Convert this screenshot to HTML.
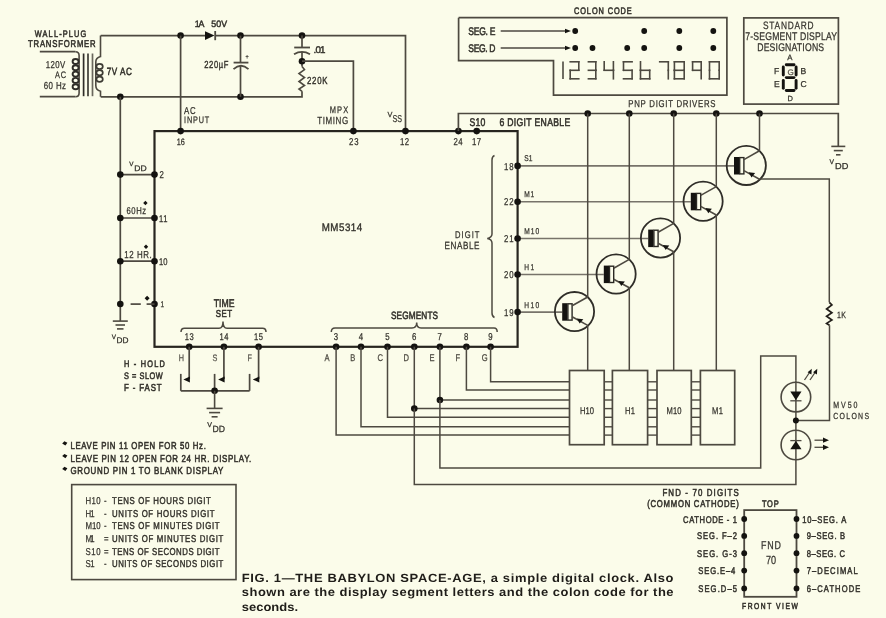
<!DOCTYPE html>
<html><head><meta charset="utf-8"><style>
html,body{margin:0;padding:0;background:#fbfcea;}
svg{display:block;will-change:transform;}
text{font-family:"Liberation Sans",sans-serif;text-rendering:geometricPrecision;}
</style></head><body>
<svg width="886" height="618" viewBox="0 0 886 618">
<rect width="886" height="618" fill="#fbfcea"/>
<text transform="translate(34.7 36.6) scale(0.78 1)" font-size="9.44" font-weight="normal" fill="#33312b" stroke="#33312b" stroke-width="0.55" textLength="66.2" lengthAdjust="spacing">WALL-PLUG</text>
<text transform="translate(28.0 46.7) scale(0.78 1)" font-size="9.86" font-weight="normal" fill="#33312b" stroke="#33312b" stroke-width="0.55" textLength="86.7" lengthAdjust="spacing">TRANSFORMER</text>
<polyline points="39.8,51.7 75.5,51.7" fill="none" stroke="#4d4940" stroke-width="1.7" stroke-linejoin="miter" />
<polyline points="39.8,96.7 75.5,96.7" fill="none" stroke="#4d4940" stroke-width="1.7" stroke-linejoin="miter" />
<path d="M75.5,51.7 Q79.1,51.7 79.1,55.5 L79.1,92.9 Q79.1,96.7 75.5,96.7" fill="none" stroke="#4d4940" stroke-width="1.6" />
<ellipse cx="75.6" cy="61.5" rx="3.0" ry="2.5" fill="none" stroke="#2e2c27" stroke-width="1.9"/>
<ellipse cx="75.6" cy="67.8" rx="3.0" ry="2.5" fill="none" stroke="#2e2c27" stroke-width="1.9"/>
<ellipse cx="75.6" cy="74.1" rx="3.0" ry="2.5" fill="none" stroke="#2e2c27" stroke-width="1.9"/>
<ellipse cx="75.6" cy="80.4" rx="3.0" ry="2.5" fill="none" stroke="#2e2c27" stroke-width="1.9"/>
<ellipse cx="75.6" cy="86.7" rx="3.0" ry="2.5" fill="none" stroke="#2e2c27" stroke-width="1.9"/>
<polyline points="83.6,53.5 83.6,96.2" fill="none" stroke="#2e2c27" stroke-width="1.7" stroke-linejoin="miter" />
<polyline points="88.0,53.5 88.0,96.2" fill="none" stroke="#3d3b34" stroke-width="1.7" stroke-linejoin="miter" />
<polyline points="92.5,53.5 92.5,96.2" fill="none" stroke="#6a675d" stroke-width="1.7" stroke-linejoin="miter" />
<path d="M100.5,35.6 L100.5,56.6 Q95.8,58 95.8,62 L95.8,85.5 Q95.8,90 100.5,91.3 L100.5,96.8" fill="none" stroke="#4d4940" stroke-width="1.6" />
<ellipse cx="99.6" cy="66.4" rx="3.2" ry="2.6" fill="none" stroke="#3d3b34" stroke-width="1.7"/>
<ellipse cx="99.6" cy="72.8" rx="3.2" ry="2.6" fill="none" stroke="#3d3b34" stroke-width="1.7"/>
<ellipse cx="99.6" cy="79.2" rx="3.2" ry="2.6" fill="none" stroke="#3d3b34" stroke-width="1.7"/>
<text transform="translate(45.7 67.8) scale(0.78 1)" font-size="10.00" font-weight="normal" fill="#33312b" stroke="#33312b" stroke-width="0.25" textLength="25.0" lengthAdjust="spacing">120V</text>
<text transform="translate(55.0 77.6) scale(0.78 1)" font-size="9.44" font-weight="normal" fill="#33312b" stroke="#33312b" stroke-width="0.25" textLength="14.1" lengthAdjust="spacing">AC</text>
<text transform="translate(43.7 88.6) scale(0.78 1)" font-size="10.14" font-weight="normal" fill="#33312b" stroke="#33312b" stroke-width="0.25" textLength="28.6" lengthAdjust="spacing">60 Hz</text>
<text transform="translate(106.7 74.5) scale(0.78 1)" font-size="10.42" font-weight="normal" fill="#33312b" stroke="#33312b" stroke-width="0.55" textLength="32.4" lengthAdjust="spacing">7V AC</text>
<polyline points="100.7,35.6 205.0,35.6" fill="none" stroke="#4d4940" stroke-width="1.7" stroke-linejoin="miter" />
<polyline points="215.0,35.6 405.5,35.6 405.5,131.1" fill="none" stroke="#4d4940" stroke-width="1.7" stroke-linejoin="miter" />
<polygon points="205,31.3 205,39.9 214.5,35.6" fill="#141310"/>
<polyline points="215.2,31.0 215.2,40.2" fill="none" stroke="#4d4940" stroke-width="1.8" stroke-linejoin="miter" />
<text transform="translate(194.8 26.5) scale(0.95 1)" font-size="9.31" font-weight="normal" fill="#33312b" stroke="#33312b" stroke-width="0.45" textLength="10.1" lengthAdjust="spacing">1A</text>
<text transform="translate(211.3 26.5) scale(0.95 1)" font-size="9.31" font-weight="normal" fill="#33312b" stroke="#33312b" stroke-width="0.45" textLength="16.7" lengthAdjust="spacing">50V</text>
<polyline points="100.7,96.8 302.0,96.8 302.0,91.3" fill="none" stroke="#4d4940" stroke-width="1.7" stroke-linejoin="miter" />
<circle cx="180.6" cy="35.6" r="3.3" fill="#141310"/>
<circle cx="240.5" cy="35.6" r="3.3" fill="#141310"/>
<circle cx="302.0" cy="35.6" r="3.3" fill="#141310"/>
<circle cx="120.3" cy="96.8" r="3.3" fill="#141310"/>
<circle cx="240.5" cy="96.8" r="3.3" fill="#141310"/>
<polyline points="240.5,35.6 240.5,62.6" fill="none" stroke="#4d4940" stroke-width="1.7" stroke-linejoin="miter" />
<polyline points="240.5,65.8 240.5,96.8" fill="none" stroke="#4d4940" stroke-width="1.7" stroke-linejoin="miter" />
<polyline points="233.6,62.6 248.4,62.6" fill="none" stroke="#4d4940" stroke-width="1.8" stroke-linejoin="miter" />
<path d="M233.5,69.2 Q241,62.3 248.5,69.2" fill="none" stroke="#4d4940" stroke-width="1.8" />
<text transform="translate(245.5 58.5) scale(0.78 1)" font-size="6.94" font-weight="normal" fill="#33312b" stroke="#33312b" stroke-width="0.25" textLength="5.1" lengthAdjust="spacing">+</text>
<text transform="translate(204.2 67.9) scale(0.74 1)" font-size="10.28" font-weight="normal" fill="#33312b" stroke="#33312b" stroke-width="0.4" textLength="32.7" lengthAdjust="spacing">220µF</text>
<polyline points="180.6,35.6 180.6,131.1" fill="none" stroke="#4d4940" stroke-width="1.7" stroke-linejoin="miter" />
<text transform="translate(184.0 113.5) scale(0.78 1)" font-size="10.00" font-weight="normal" fill="#33312b" stroke="#33312b" stroke-width="0.25" textLength="15.0" lengthAdjust="spacing">AC</text>
<text transform="translate(184.0 123.4) scale(0.78 1)" font-size="9.31" font-weight="normal" fill="#33312b" stroke="#33312b" stroke-width="0.25" textLength="32.4" lengthAdjust="spacing">INPUT</text>
<text transform="translate(176.7 144.6) scale(0.78 1)" font-size="9.31" font-weight="normal" fill="#33312b" stroke="#33312b" stroke-width="0.25" textLength="10.5" lengthAdjust="spacing">16</text>
<polyline points="302.0,35.6 302.0,47.5" fill="none" stroke="#4d4940" stroke-width="1.7" stroke-linejoin="miter" />
<polyline points="294.2,47.5 310.0,47.5" fill="none" stroke="#4d4940" stroke-width="1.8" stroke-linejoin="miter" />
<path d="M294,54.3 Q302,49.6 310,54.3" fill="none" stroke="#4d4940" stroke-width="1.8" />
<polyline points="302.0,52.0 302.0,66.4" fill="none" stroke="#4d4940" stroke-width="1.7" stroke-linejoin="miter" />
<circle cx="302.0" cy="61.2" r="3.3" fill="#141310"/>
<text transform="translate(313.5 52.8) scale(1 1)" font-size="9.72" font-weight="normal" fill="#33312b" stroke="#33312b" stroke-width="0.45" textLength="12.0" lengthAdjust="spacing">.01</text>
<polyline points="302.0,66.4 304.5,69.6 299.0,73.6 304.5,77.5 299.0,81.5 304.5,85.5 299.0,89.0 302.0,91.3" fill="none" stroke="#4d4940" stroke-width="1.6" stroke-linejoin="miter" />
<text transform="translate(307.0 84.0) scale(0.76 1)" font-size="10.28" font-weight="normal" fill="#33312b" stroke="#33312b" stroke-width="0.4" textLength="27.0" lengthAdjust="spacing">220K</text>
<polyline points="302.0,61.2 353.4,61.2 353.4,131.1" fill="none" stroke="#4d4940" stroke-width="1.7" stroke-linejoin="miter" />
<text transform="translate(329.7 112.9) scale(0.78 1)" font-size="9.58" font-weight="normal" fill="#33312b" stroke="#33312b" stroke-width="0.25" textLength="23.7" lengthAdjust="spacing">MPX</text>
<text transform="translate(317.2 123.7) scale(0.78 1)" font-size="10.28" font-weight="normal" fill="#33312b" stroke="#33312b" stroke-width="0.25" textLength="39.7" lengthAdjust="spacing">TIMING</text>
<text transform="translate(387.4 116.8) scale(1 1)" font-size="7.36" font-weight="normal" fill="#33312b" stroke="#33312b" stroke-width="0.25" textLength="4.6" lengthAdjust="spacing">V</text>
<text x="392.5" y="122.0" font-size="10.00" font-weight="normal" fill="#33312b" stroke="#33312b" stroke-width="0.25" textLength="9.5" lengthAdjust="spacingAndGlyphs">SS</text>
<text transform="translate(349.0 145.0) scale(0.78 1)" font-size="10.00" font-weight="normal" fill="#33312b" stroke="#33312b" stroke-width="0.25" textLength="12.3" lengthAdjust="spacing">23</text>
<text transform="translate(400.0 145.0) scale(0.78 1)" font-size="10.00" font-weight="normal" fill="#33312b" stroke="#33312b" stroke-width="0.25" textLength="11.5" lengthAdjust="spacing">12</text>
<rect x="154.5" y="131.1" width="363.1" height="215.7" fill="none" stroke="#27251f" stroke-width="2.2"/>
<circle cx="180.6" cy="131.1" r="3.3" fill="#141310"/>
<circle cx="353.4" cy="131.1" r="3.3" fill="#141310"/>
<circle cx="405.5" cy="131.1" r="3.3" fill="#141310"/>
<circle cx="458.4" cy="131.1" r="3.3" fill="#141310"/>
<circle cx="476.7" cy="131.1" r="3.3" fill="#141310"/>
<text transform="translate(453.5 145.0) scale(0.78 1)" font-size="10.00" font-weight="normal" fill="#33312b" stroke="#33312b" stroke-width="0.25" textLength="11.5" lengthAdjust="spacing">24</text>
<text transform="translate(472.0 145.0) scale(0.78 1)" font-size="10.00" font-weight="normal" fill="#33312b" stroke="#33312b" stroke-width="0.25" textLength="11.5" lengthAdjust="spacing">17</text>
<polyline points="458.4,131.1 458.4,113.5 838.3,113.5 838.3,146.4" fill="none" stroke="#4d4940" stroke-width="1.7" stroke-linejoin="miter" />
<text transform="translate(469.5 125.8) scale(0.78 1)" font-size="11.11" font-weight="normal" fill="#33312b" stroke="#33312b" stroke-width="0.55" textLength="20.3" lengthAdjust="spacing">S10</text>
<text transform="translate(499.4 125.8) scale(0.78 1)" font-size="11.11" font-weight="normal" fill="#33312b" stroke="#33312b" stroke-width="0.55" textLength="90.9" lengthAdjust="spacing">6 DIGIT ENABLE</text>
<text transform="translate(628.3 106.9) scale(0.78 1)" font-size="10.00" font-weight="normal" fill="#33312b" stroke="#33312b" stroke-width="0.25" textLength="111.8" lengthAdjust="spacing">PNP DIGIT DRIVERS</text>
<polyline points="831.3,146.4 845.3,146.4" fill="none" stroke="#4d4940" stroke-width="1.6" stroke-linejoin="miter" />
<polyline points="833.8,150.6 842.8,150.6" fill="none" stroke="#4d4940" stroke-width="1.6" stroke-linejoin="miter" />
<polyline points="836.0,154.8 840.5,154.8" fill="none" stroke="#4d4940" stroke-width="1.6" stroke-linejoin="miter" />
<text transform="translate(829.6 164.4) scale(1.0 1)" font-size="6.74" font-weight="normal" fill="#33312b" stroke="#33312b" stroke-width="0.25" textLength="5.5" lengthAdjust="spacing">V</text>
<text x="835.1" y="169.3" font-size="8.62" font-weight="normal" fill="#33312b" stroke="#33312b" stroke-width="0.25" textLength="13.3" lengthAdjust="spacingAndGlyphs">DD</text>
<text transform="translate(321.7 230.6) scale(0.9 1)" font-size="10.83" font-weight="normal" fill="#33312b" stroke="#33312b" stroke-width="0.35" textLength="45.0" lengthAdjust="spacing">MM5314</text>
<text transform="translate(454.9 237.6) scale(0.78 1)" font-size="9.72" font-weight="normal" fill="#33312b" stroke="#33312b" stroke-width="0.25" textLength="31.5" lengthAdjust="spacing">DIGIT</text>
<text transform="translate(444.5 248.5) scale(0.78 1)" font-size="10.42" font-weight="normal" fill="#33312b" stroke="#33312b" stroke-width="0.25" textLength="44.9" lengthAdjust="spacing">ENABLE</text>
<path d="M494.5,155.5 Q492,156.5 492,160 L492,234 Q492,237.5 487.3,238.4 Q492,239.3 492,243 L492,313 Q492,316.5 494.5,317.5" fill="none" stroke="#4d4940" stroke-width="1.5" />
<polyline points="517.6,165.9 734.0,165.9" fill="none" stroke="#77736a" stroke-width="1.6" stroke-linejoin="miter" />
<circle cx="517.6" cy="165.9" r="3.3" fill="#141310"/>
<text transform="translate(504.0 169.5) scale(0.78 1)" font-size="10.00" font-weight="normal" fill="#33312b" stroke="#33312b" stroke-width="0.25" textLength="12.3" lengthAdjust="spacing">18</text>
<text transform="translate(524.3 161.3) scale(0.78 1)" font-size="8.47" font-weight="normal" fill="#33312b" stroke="#33312b" stroke-width="0.25" textLength="10.5" lengthAdjust="spacing">S1</text>
<circle cx="746.3" cy="165.4" r="19.6" fill="none" stroke="#2f2d28" stroke-width="1.8"/>
<rect x="734.0" y="157.0" width="5.3" height="17.5" fill="#141310"/>
<rect x="739.7" y="157.6" width="4.2" height="16.3" fill="none" stroke="#2a2823" stroke-width="1.4"/>
<polyline points="743.9,159.6 759.5,150.8" fill="none" stroke="#4d4940" stroke-width="1.6" stroke-linejoin="miter" />
<polyline points="743.9,170.6 759.5,179.2" fill="none" stroke="#4d4940" stroke-width="1.6" stroke-linejoin="miter" />
<polygon points="748.6,172.3 755.1,173.0 751.5,177.4" fill="#141310"/>
<polyline points="517.6,201.7 690.8,201.7" fill="none" stroke="#77736a" stroke-width="1.6" stroke-linejoin="miter" />
<circle cx="517.6" cy="201.7" r="3.3" fill="#141310"/>
<text transform="translate(504.0 205.3) scale(0.78 1)" font-size="10.00" font-weight="normal" fill="#33312b" stroke="#33312b" stroke-width="0.25" textLength="12.3" lengthAdjust="spacing">22</text>
<text transform="translate(524.3 197.1) scale(0.78 1)" font-size="8.47" font-weight="normal" fill="#33312b" stroke="#33312b" stroke-width="0.25" textLength="12.8" lengthAdjust="spacing">M1</text>
<circle cx="703.1" cy="201.2" r="19.6" fill="none" stroke="#2f2d28" stroke-width="1.8"/>
<rect x="690.8" y="192.8" width="5.3" height="17.5" fill="#141310"/>
<rect x="696.5" y="193.4" width="4.2" height="16.3" fill="none" stroke="#2a2823" stroke-width="1.4"/>
<polyline points="700.7,195.4 716.3,186.6" fill="none" stroke="#4d4940" stroke-width="1.6" stroke-linejoin="miter" />
<polyline points="700.7,206.4 716.3,215.0" fill="none" stroke="#4d4940" stroke-width="1.6" stroke-linejoin="miter" />
<polygon points="705.4,208.1 711.9,208.8 708.3,213.2" fill="#141310"/>
<polyline points="517.6,238.5 648.2,238.5" fill="none" stroke="#77736a" stroke-width="1.6" stroke-linejoin="miter" />
<circle cx="517.6" cy="238.5" r="3.3" fill="#141310"/>
<text transform="translate(504.0 242.1) scale(0.78 1)" font-size="10.00" font-weight="normal" fill="#33312b" stroke="#33312b" stroke-width="0.25" textLength="12.3" lengthAdjust="spacing">21</text>
<text transform="translate(524.3 233.9) scale(0.78 1)" font-size="8.47" font-weight="normal" fill="#33312b" stroke="#33312b" stroke-width="0.25" textLength="19.2" lengthAdjust="spacing">M10</text>
<circle cx="660.5" cy="238.0" r="19.6" fill="none" stroke="#2f2d28" stroke-width="1.8"/>
<rect x="648.2" y="229.6" width="5.3" height="17.5" fill="#141310"/>
<rect x="653.9" y="230.2" width="4.2" height="16.3" fill="none" stroke="#2a2823" stroke-width="1.4"/>
<polyline points="658.1,232.2 673.7,223.4" fill="none" stroke="#4d4940" stroke-width="1.6" stroke-linejoin="miter" />
<polyline points="658.1,243.2 673.7,251.8" fill="none" stroke="#4d4940" stroke-width="1.6" stroke-linejoin="miter" />
<polygon points="662.8,244.9 669.3,245.6 665.7,250.0" fill="#141310"/>
<polyline points="517.6,274.5 603.8,274.5" fill="none" stroke="#77736a" stroke-width="1.6" stroke-linejoin="miter" />
<circle cx="517.6" cy="274.5" r="3.3" fill="#141310"/>
<text transform="translate(504.0 278.1) scale(0.78 1)" font-size="10.00" font-weight="normal" fill="#33312b" stroke="#33312b" stroke-width="0.25" textLength="12.3" lengthAdjust="spacing">20</text>
<text transform="translate(524.3 269.9) scale(0.78 1)" font-size="8.47" font-weight="normal" fill="#33312b" stroke="#33312b" stroke-width="0.25" textLength="12.8" lengthAdjust="spacing">H1</text>
<circle cx="616.1" cy="274.0" r="19.6" fill="none" stroke="#2f2d28" stroke-width="1.8"/>
<rect x="603.8" y="265.6" width="5.3" height="17.5" fill="#141310"/>
<rect x="609.5" y="266.2" width="4.2" height="16.3" fill="none" stroke="#2a2823" stroke-width="1.4"/>
<polyline points="613.7,268.2 629.3,259.4" fill="none" stroke="#4d4940" stroke-width="1.6" stroke-linejoin="miter" />
<polyline points="613.7,279.2 629.3,287.8" fill="none" stroke="#4d4940" stroke-width="1.6" stroke-linejoin="miter" />
<polygon points="618.4,280.9 624.9,281.6 621.3,286.0" fill="#141310"/>
<polyline points="517.6,312.1 562.2,312.1" fill="none" stroke="#77736a" stroke-width="1.6" stroke-linejoin="miter" />
<circle cx="517.6" cy="312.1" r="3.3" fill="#141310"/>
<text transform="translate(504.0 315.7) scale(0.78 1)" font-size="10.00" font-weight="normal" fill="#33312b" stroke="#33312b" stroke-width="0.25" textLength="12.3" lengthAdjust="spacing">19</text>
<text transform="translate(524.3 307.5) scale(0.78 1)" font-size="8.47" font-weight="normal" fill="#33312b" stroke="#33312b" stroke-width="0.25" textLength="19.2" lengthAdjust="spacing">H10</text>
<circle cx="574.5" cy="311.6" r="19.6" fill="none" stroke="#2f2d28" stroke-width="1.8"/>
<rect x="562.2" y="303.2" width="5.3" height="17.5" fill="#141310"/>
<rect x="567.9" y="303.8" width="4.2" height="16.3" fill="none" stroke="#2a2823" stroke-width="1.4"/>
<polyline points="572.1,305.8 587.7,297.0" fill="none" stroke="#4d4940" stroke-width="1.6" stroke-linejoin="miter" />
<polyline points="572.1,316.8 587.7,325.4" fill="none" stroke="#4d4940" stroke-width="1.6" stroke-linejoin="miter" />
<polygon points="576.8,318.5 583.3,319.2 579.7,323.6" fill="#141310"/>
<circle cx="759.5" cy="113.5" r="3.3" fill="#141310"/>
<polyline points="759.5,113.5 759.5,150.8" fill="none" stroke="#4d4940" stroke-width="1.5" stroke-linejoin="miter" />
<circle cx="716.3" cy="113.5" r="3.3" fill="#141310"/>
<polyline points="716.3,113.5 716.3,186.6" fill="none" stroke="#4d4940" stroke-width="1.5" stroke-linejoin="miter" />
<polyline points="716.3,215.0 716.3,370.5" fill="none" stroke="#4d4940" stroke-width="1.5" stroke-linejoin="miter" />
<circle cx="673.7" cy="113.5" r="3.3" fill="#141310"/>
<polyline points="673.7,113.5 673.7,223.4" fill="none" stroke="#4d4940" stroke-width="1.5" stroke-linejoin="miter" />
<polyline points="673.7,251.8 673.7,370.5" fill="none" stroke="#4d4940" stroke-width="1.5" stroke-linejoin="miter" />
<circle cx="629.3" cy="113.5" r="3.3" fill="#141310"/>
<polyline points="629.3,113.5 629.3,259.4" fill="none" stroke="#4d4940" stroke-width="1.5" stroke-linejoin="miter" />
<polyline points="629.3,287.8 629.3,370.5" fill="none" stroke="#4d4940" stroke-width="1.5" stroke-linejoin="miter" />
<circle cx="587.7" cy="113.5" r="3.3" fill="#141310"/>
<polyline points="587.7,113.5 587.7,297.0" fill="none" stroke="#4d4940" stroke-width="1.5" stroke-linejoin="miter" />
<polyline points="587.7,325.4 587.7,370.5" fill="none" stroke="#4d4940" stroke-width="1.5" stroke-linejoin="miter" />
<polyline points="759.5,179.1 829.3,179.1 829.3,302.3" fill="none" stroke="#4d4940" stroke-width="1.5" stroke-linejoin="miter" />
<polyline points="829.3,302.3 831.9,305.0 826.6,309.0 831.9,312.7 826.6,316.3 831.9,320.0 826.6,323.4 829.5,325.2" fill="none" stroke="#221f1a" stroke-width="1.7" stroke-linejoin="miter" />
<polyline points="829.5,325.2 829.5,420.6 795.9,420.6" fill="none" stroke="#4d4940" stroke-width="1.5" stroke-linejoin="miter" />
<text transform="translate(837.1 318.3) scale(0.78 1)" font-size="9.03" font-weight="normal" fill="#33312b" stroke="#33312b" stroke-width="0.25" textLength="11.4" lengthAdjust="spacing">1K</text>
<circle cx="336.1" cy="346.8" r="3.3" fill="#141310"/>
<text transform="translate(333.8 340.4) scale(0.78 1)" font-size="10.00" font-weight="normal" fill="#33312b" stroke="#33312b" stroke-width="0.25" textLength="5.9" lengthAdjust="spacing">3</text>
<text transform="translate(324.6 360.6) scale(0.78 1)" font-size="9.72" font-weight="normal" fill="#4a473f" stroke="#4a473f" stroke-width="0.25" textLength="6.9" lengthAdjust="spacing">A</text>
<polyline points="336.1,346.8 336.1,435.1 569.5,435.1" fill="none" stroke="#4d4940" stroke-width="1.5" stroke-linejoin="miter" />
<circle cx="361.0" cy="346.8" r="3.3" fill="#141310"/>
<text transform="translate(358.7 340.4) scale(0.78 1)" font-size="10.00" font-weight="normal" fill="#33312b" stroke="#33312b" stroke-width="0.25" textLength="5.9" lengthAdjust="spacing">4</text>
<text transform="translate(350.2 360.6) scale(0.78 1)" font-size="9.72" font-weight="normal" fill="#4a473f" stroke="#4a473f" stroke-width="0.25" textLength="6.9" lengthAdjust="spacing">B</text>
<polyline points="361.0,346.8 361.0,426.8 569.5,426.8" fill="none" stroke="#4d4940" stroke-width="1.5" stroke-linejoin="miter" />
<circle cx="387.5" cy="346.8" r="3.3" fill="#141310"/>
<text transform="translate(385.2 340.4) scale(0.78 1)" font-size="10.00" font-weight="normal" fill="#33312b" stroke="#33312b" stroke-width="0.25" textLength="5.9" lengthAdjust="spacing">5</text>
<text transform="translate(377.5 360.6) scale(0.78 1)" font-size="9.72" font-weight="normal" fill="#4a473f" stroke="#4a473f" stroke-width="0.25" textLength="6.9" lengthAdjust="spacing">C</text>
<polyline points="387.5,346.8 387.5,417.3 569.5,417.3" fill="none" stroke="#4d4940" stroke-width="1.5" stroke-linejoin="miter" />
<circle cx="414.3" cy="346.8" r="3.3" fill="#141310"/>
<text transform="translate(412.0 340.4) scale(0.78 1)" font-size="10.00" font-weight="normal" fill="#33312b" stroke="#33312b" stroke-width="0.25" textLength="5.9" lengthAdjust="spacing">6</text>
<text transform="translate(403.6 360.6) scale(0.78 1)" font-size="9.72" font-weight="normal" fill="#4a473f" stroke="#4a473f" stroke-width="0.25" textLength="6.9" lengthAdjust="spacing">D</text>
<polyline points="414.3,346.8 414.3,408.6 569.5,408.6" fill="none" stroke="#4d4940" stroke-width="1.5" stroke-linejoin="miter" />
<circle cx="439.9" cy="346.8" r="3.3" fill="#141310"/>
<text transform="translate(437.6 340.4) scale(0.78 1)" font-size="10.00" font-weight="normal" fill="#33312b" stroke="#33312b" stroke-width="0.25" textLength="5.9" lengthAdjust="spacing">7</text>
<text transform="translate(429.6 360.6) scale(0.78 1)" font-size="9.72" font-weight="normal" fill="#4a473f" stroke="#4a473f" stroke-width="0.25" textLength="6.9" lengthAdjust="spacing">E</text>
<polyline points="439.9,346.8 439.9,400.0 569.5,400.0" fill="none" stroke="#4d4940" stroke-width="1.5" stroke-linejoin="miter" />
<circle cx="466.4" cy="346.8" r="3.3" fill="#141310"/>
<text transform="translate(464.1 340.4) scale(0.78 1)" font-size="10.00" font-weight="normal" fill="#33312b" stroke="#33312b" stroke-width="0.25" textLength="5.9" lengthAdjust="spacing">8</text>
<text transform="translate(455.6 360.6) scale(0.78 1)" font-size="9.72" font-weight="normal" fill="#4a473f" stroke="#4a473f" stroke-width="0.25" textLength="6.9" lengthAdjust="spacing">F</text>
<polyline points="466.4,346.8 466.4,390.0 569.5,390.0" fill="none" stroke="#4d4940" stroke-width="1.5" stroke-linejoin="miter" />
<circle cx="490.6" cy="346.8" r="3.3" fill="#141310"/>
<text transform="translate(488.3 340.4) scale(0.78 1)" font-size="10.00" font-weight="normal" fill="#33312b" stroke="#33312b" stroke-width="0.25" textLength="5.9" lengthAdjust="spacing">9</text>
<text transform="translate(481.7 360.6) scale(0.78 1)" font-size="9.72" font-weight="normal" fill="#4a473f" stroke="#4a473f" stroke-width="0.25" textLength="6.9" lengthAdjust="spacing">G</text>
<polyline points="490.6,346.8 490.6,381.8 569.5,381.8" fill="none" stroke="#4d4940" stroke-width="1.5" stroke-linejoin="miter" />
<circle cx="414.3" cy="408.6" r="3.3" fill="#141310"/>
<circle cx="439.9" cy="400.0" r="3.3" fill="#141310"/>
<text transform="translate(391.0 319.0) scale(0.78 1)" font-size="10.56" font-weight="normal" fill="#33312b" stroke="#33312b" stroke-width="0.55" textLength="60.3" lengthAdjust="spacing">SEGMENTS</text>
<path d="M331.3,332 Q331.3,328 335,328 L412,328 Q416.7,328 416.7,322.5 Q416.7,328 421,328 L494,328 Q497.2,328 497.2,332" fill="none" stroke="#4d4940" stroke-width="1.5" />
<polyline points="439.9,400.0 439.9,468.0 760.7,468.0 760.7,355.9 795.9,355.9 795.9,380.2" fill="none" stroke="#4d4940" stroke-width="1.5" stroke-linejoin="miter" />
<polyline points="414.3,408.6 414.3,484.5 795.9,484.5 795.9,460.0" fill="none" stroke="#4d4940" stroke-width="1.5" stroke-linejoin="miter" />
<rect x="569.5" y="370.5" width="34.7" height="74.2" fill="none" stroke="#4d4940" stroke-width="1.7"/>
<text transform="translate(579.9 413.5) scale(0.78 1)" font-size="9.72" font-weight="normal" fill="#33312b" stroke="#33312b" stroke-width="0.25" textLength="17.9" lengthAdjust="spacing">H10</text>
<rect x="612.4" y="370.5" width="35.2" height="74.2" fill="none" stroke="#4d4940" stroke-width="1.7"/>
<text transform="translate(625.0 413.5) scale(0.78 1)" font-size="9.72" font-weight="normal" fill="#33312b" stroke="#33312b" stroke-width="0.25" textLength="12.8" lengthAdjust="spacing">H1</text>
<rect x="657" y="370.5" width="34.3" height="74.2" fill="none" stroke="#4d4940" stroke-width="1.7"/>
<text transform="translate(666.6 413.5) scale(0.78 1)" font-size="9.72" font-weight="normal" fill="#33312b" stroke="#33312b" stroke-width="0.25" textLength="19.2" lengthAdjust="spacing">M10</text>
<rect x="700.4" y="370.5" width="34.3" height="74.2" fill="none" stroke="#4d4940" stroke-width="1.7"/>
<text transform="translate(712.0 413.5) scale(0.78 1)" font-size="9.72" font-weight="normal" fill="#33312b" stroke="#33312b" stroke-width="0.25" textLength="14.1" lengthAdjust="spacing">M1</text>
<polyline points="604.2,435.1 612.4,435.1" fill="none" stroke="#4d4940" stroke-width="1.4" stroke-linejoin="miter" />
<polyline points="604.2,426.8 612.4,426.8" fill="none" stroke="#4d4940" stroke-width="1.4" stroke-linejoin="miter" />
<polyline points="604.2,417.3 612.4,417.3" fill="none" stroke="#4d4940" stroke-width="1.4" stroke-linejoin="miter" />
<polyline points="604.2,408.6 612.4,408.6" fill="none" stroke="#4d4940" stroke-width="1.4" stroke-linejoin="miter" />
<polyline points="604.2,400.0 612.4,400.0" fill="none" stroke="#4d4940" stroke-width="1.4" stroke-linejoin="miter" />
<polyline points="604.2,390.0 612.4,390.0" fill="none" stroke="#4d4940" stroke-width="1.4" stroke-linejoin="miter" />
<polyline points="604.2,381.8 612.4,381.8" fill="none" stroke="#4d4940" stroke-width="1.4" stroke-linejoin="miter" />
<polyline points="608.3,377.0 608.3,440.0" fill="none" stroke="#4d4940" stroke-width="0" stroke-linejoin="miter" />
<polyline points="647.6,435.1 657.0,435.1" fill="none" stroke="#4d4940" stroke-width="1.4" stroke-linejoin="miter" />
<polyline points="647.6,426.8 657.0,426.8" fill="none" stroke="#4d4940" stroke-width="1.4" stroke-linejoin="miter" />
<polyline points="647.6,417.3 657.0,417.3" fill="none" stroke="#4d4940" stroke-width="1.4" stroke-linejoin="miter" />
<polyline points="647.6,408.6 657.0,408.6" fill="none" stroke="#4d4940" stroke-width="1.4" stroke-linejoin="miter" />
<polyline points="647.6,400.0 657.0,400.0" fill="none" stroke="#4d4940" stroke-width="1.4" stroke-linejoin="miter" />
<polyline points="647.6,390.0 657.0,390.0" fill="none" stroke="#4d4940" stroke-width="1.4" stroke-linejoin="miter" />
<polyline points="647.6,381.8 657.0,381.8" fill="none" stroke="#4d4940" stroke-width="1.4" stroke-linejoin="miter" />
<polyline points="651.7,377.0 651.7,440.0" fill="none" stroke="#4d4940" stroke-width="0" stroke-linejoin="miter" />
<polyline points="691.3,435.1 700.4,435.1" fill="none" stroke="#4d4940" stroke-width="1.4" stroke-linejoin="miter" />
<polyline points="691.3,426.8 700.4,426.8" fill="none" stroke="#4d4940" stroke-width="1.4" stroke-linejoin="miter" />
<polyline points="691.3,417.3 700.4,417.3" fill="none" stroke="#4d4940" stroke-width="1.4" stroke-linejoin="miter" />
<polyline points="691.3,408.6 700.4,408.6" fill="none" stroke="#4d4940" stroke-width="1.4" stroke-linejoin="miter" />
<polyline points="691.3,400.0 700.4,400.0" fill="none" stroke="#4d4940" stroke-width="1.4" stroke-linejoin="miter" />
<polyline points="691.3,390.0 700.4,390.0" fill="none" stroke="#4d4940" stroke-width="1.4" stroke-linejoin="miter" />
<polyline points="691.3,381.8 700.4,381.8" fill="none" stroke="#4d4940" stroke-width="1.4" stroke-linejoin="miter" />
<polyline points="695.4,377.0 695.4,440.0" fill="none" stroke="#4d4940" stroke-width="0" stroke-linejoin="miter" />
<circle cx="795.9" cy="397.1" r="14.8" fill="none" stroke="#4d4940" stroke-width="1.6"/>
<circle cx="795.9" cy="445" r="14.8" fill="none" stroke="#4d4940" stroke-width="1.6"/>
<polyline points="795.9,380.2 795.9,430.2" fill="none" stroke="#4d4940" stroke-width="1.5" stroke-linejoin="miter" />
<polyline points="795.9,430.2 795.9,460.0" fill="none" stroke="#4d4940" stroke-width="1.5" stroke-linejoin="miter" />
<circle cx="795.9" cy="420.6" r="3" fill="#141310"/>
<polygon points="790.3,391.6 801.5,391.6 795.9,400.3" fill="#141310"/>
<polyline points="790.3,400.8 801.5,400.8" fill="none" stroke="#4d4940" stroke-width="1.3" stroke-linejoin="miter" />
<polygon points="790.3,449.3 801.5,449.3 795.9,440.8" fill="#141310"/>
<polyline points="790.3,440.6 801.5,440.6" fill="none" stroke="#4d4940" stroke-width="1.3" stroke-linejoin="miter" />
<polyline points="804.5,380.0 810.2,371.5" fill="none" stroke="#4d4940" stroke-width="1.3" stroke-linejoin="miter" />
<polygon points="811.8,368.7 807.6,372.2 811.4,374.4" fill="#141310"/>
<polyline points="810.0,380.0 815.7,371.5" fill="none" stroke="#4d4940" stroke-width="1.3" stroke-linejoin="miter" />
<polygon points="817.3,368.7 813.1,372.2 816.9,374.4" fill="#141310"/>
<polyline points="814.5,440.2 824.0,440.2" fill="none" stroke="#4d4940" stroke-width="1.3" stroke-linejoin="miter" />
<polygon points="829,440.2 823,437.59999999999997 823,442.8" fill="#141310"/>
<polyline points="814.5,447.3 824.0,447.3" fill="none" stroke="#4d4940" stroke-width="1.3" stroke-linejoin="miter" />
<polygon points="829,447.3 823,444.7 823,449.90000000000003" fill="#141310"/>
<text transform="translate(833.3 407.5) scale(0.78 1)" font-size="9.03" font-weight="normal" fill="#33312b" stroke="#33312b" stroke-width="0.25" textLength="31.0" lengthAdjust="spacing">MV50</text>
<text transform="translate(833.3 418.9) scale(0.78 1)" font-size="8.89" font-weight="normal" fill="#33312b" stroke="#33312b" stroke-width="0.25" textLength="45.8" lengthAdjust="spacing">COLONS</text>
<polyline points="120.3,96.8 120.3,321.0" fill="none" stroke="#4d4940" stroke-width="1.7" stroke-linejoin="miter" />
<polyline points="120.3,174.6 154.5,174.6" fill="none" stroke="#4d4940" stroke-width="1.7" stroke-linejoin="miter" />
<circle cx="120.3" cy="174.6" r="3.3" fill="#141310"/>
<circle cx="154.5" cy="174.6" r="3.3" fill="#141310"/>
<polyline points="120.3,218.0 154.5,218.0" fill="none" stroke="#4d4940" stroke-width="1.7" stroke-linejoin="miter" />
<circle cx="120.3" cy="218.0" r="3.3" fill="#141310"/>
<circle cx="154.5" cy="218.0" r="3.3" fill="#141310"/>
<polyline points="120.3,261.2 154.5,261.2" fill="none" stroke="#4d4940" stroke-width="1.7" stroke-linejoin="miter" />
<circle cx="120.3" cy="261.2" r="3.3" fill="#141310"/>
<circle cx="154.5" cy="261.2" r="3.3" fill="#141310"/>
<text transform="translate(159.6 178.2) scale(0.78 1)" font-size="10.00" font-weight="normal" fill="#33312b" stroke="#33312b" stroke-width="0.25" textLength="5.4" lengthAdjust="spacing">2</text>
<text transform="translate(159.0 221.5) scale(0.78 1)" font-size="9.72" font-weight="normal" fill="#33312b" stroke="#33312b" stroke-width="0.25" textLength="10.9" lengthAdjust="spacing">11</text>
<text transform="translate(159.0 264.7) scale(0.78 1)" font-size="9.72" font-weight="normal" fill="#33312b" stroke="#33312b" stroke-width="0.25" textLength="10.9" lengthAdjust="spacing">10</text>
<text transform="translate(129.2 166.1) scale(1.0 1)" font-size="6.32" font-weight="normal" fill="#33312b" stroke="#33312b" stroke-width="0.25" textLength="5.1" lengthAdjust="spacing">V</text>
<text x="134.3" y="170.7" font-size="8.09" font-weight="normal" fill="#33312b" stroke="#33312b" stroke-width="0.25" textLength="12.4" lengthAdjust="spacingAndGlyphs">DD</text>
<text transform="translate(126.6 214.0) scale(0.78 1)" font-size="9.86" font-weight="normal" fill="#33312b" stroke="#33312b" stroke-width="0.25" textLength="24.9" lengthAdjust="spacing">60Hz</text>
<polygon points="145.4,200.8 147.6,203 145.4,205.2 143.2,203" fill="#141310"/>
<text transform="translate(124.3 258.0) scale(0.78 1)" font-size="10.14" font-weight="normal" fill="#33312b" stroke="#33312b" stroke-width="0.25" textLength="35.1" lengthAdjust="spacing">12 HR.</text>
<polygon points="146,244.6 148.2,246.8 146,249 143.8,246.8" fill="#141310"/>
<circle cx="120.3" cy="304.0" r="3.3" fill="#141310"/>
<circle cx="154.5" cy="304.0" r="3.3" fill="#141310"/>
<polyline points="130.6,304.1 140.8,304.1" fill="none" stroke="#4d4940" stroke-width="1.7" stroke-linejoin="miter" />
<polyline points="146.6,304.1 154.5,304.1" fill="none" stroke="#4d4940" stroke-width="1.7" stroke-linejoin="miter" />
<polygon points="147.1,295.8 149.6,298.3 147.1,300.8 144.6,298.3" fill="#141310"/>
<text transform="translate(160.5 306.5) scale(0.78 1)" font-size="8.33" font-weight="normal" fill="#33312b" stroke="#33312b" stroke-width="0.25" textLength="3.2" lengthAdjust="spacing">1</text>
<polyline points="112.8,321.1 127.8,321.1" fill="none" stroke="#4d4940" stroke-width="1.6" stroke-linejoin="miter" />
<polyline points="115.5,325.0 125.0,325.0" fill="none" stroke="#4d4940" stroke-width="1.6" stroke-linejoin="miter" />
<polyline points="117.0,328.9 123.5,328.9" fill="none" stroke="#4d4940" stroke-width="1.6" stroke-linejoin="miter" />
<text transform="translate(111.7 338.8) scale(1.0 1)" font-size="6.39" font-weight="normal" fill="#33312b" stroke="#33312b" stroke-width="0.25" textLength="4.9" lengthAdjust="spacing">V</text>
<text x="116.6" y="343.4" font-size="8.18" font-weight="normal" fill="#33312b" stroke="#33312b" stroke-width="0.25" textLength="12.0" lengthAdjust="spacingAndGlyphs">DD</text>
<circle cx="189.2" cy="346.8" r="3.3" fill="#141310"/>
<text transform="translate(184.7 339.5) scale(0.78 1)" font-size="9.72" font-weight="normal" fill="#33312b" stroke="#33312b" stroke-width="0.25" textLength="11.5" lengthAdjust="spacing">13</text>
<text transform="translate(178.7 360.5) scale(0.78 1)" font-size="9.31" font-weight="normal" fill="#55524a" stroke="#55524a" stroke-width="0.25" textLength="6.7" lengthAdjust="spacing">H</text>
<polyline points="189.2,346.8 189.2,379.0" fill="none" stroke="#4d4940" stroke-width="1.7" stroke-linejoin="miter" />
<polygon points="183.4,379.5 189.9,376.5 189.9,382.4" fill="#141310"/>
<polyline points="180.8,373.9 180.8,390.8" fill="none" stroke="#4d4940" stroke-width="1.7" stroke-linejoin="miter" />
<circle cx="223.9" cy="346.8" r="3.3" fill="#141310"/>
<text transform="translate(219.4 339.5) scale(0.78 1)" font-size="9.72" font-weight="normal" fill="#33312b" stroke="#33312b" stroke-width="0.25" textLength="11.5" lengthAdjust="spacing">14</text>
<text transform="translate(212.5 360.5) scale(0.78 1)" font-size="9.31" font-weight="normal" fill="#55524a" stroke="#55524a" stroke-width="0.25" textLength="6.7" lengthAdjust="spacing">S</text>
<polyline points="223.9,346.8 223.9,379.0" fill="none" stroke="#4d4940" stroke-width="1.7" stroke-linejoin="miter" />
<polygon points="218.1,379.5 224.6,376.5 224.6,382.4" fill="#141310"/>
<polyline points="214.6,373.9 214.6,390.8" fill="none" stroke="#4d4940" stroke-width="1.7" stroke-linejoin="miter" />
<circle cx="258.6" cy="346.8" r="3.3" fill="#141310"/>
<text transform="translate(254.1 339.5) scale(0.78 1)" font-size="9.72" font-weight="normal" fill="#33312b" stroke="#33312b" stroke-width="0.25" textLength="11.5" lengthAdjust="spacing">15</text>
<text transform="translate(247.5 360.5) scale(0.78 1)" font-size="9.31" font-weight="normal" fill="#55524a" stroke="#55524a" stroke-width="0.25" textLength="6.7" lengthAdjust="spacing">F</text>
<polyline points="258.6,346.8 258.6,379.0" fill="none" stroke="#4d4940" stroke-width="1.7" stroke-linejoin="miter" />
<polygon points="252.8,379.5 259.3,376.5 259.3,382.4" fill="#141310"/>
<polyline points="249.6,373.9 249.6,390.8" fill="none" stroke="#4d4940" stroke-width="1.7" stroke-linejoin="miter" />
<polyline points="180.8,390.8 249.6,390.8" fill="none" stroke="#4d4940" stroke-width="1.7" stroke-linejoin="miter" />
<circle cx="214.6" cy="390.8" r="3.3" fill="#141310"/>
<polyline points="214.6,390.8 214.6,408.4" fill="none" stroke="#4d4940" stroke-width="1.6" stroke-linejoin="miter" />
<polyline points="206.6,408.4 222.6,408.4" fill="none" stroke="#4d4940" stroke-width="1.6" stroke-linejoin="miter" />
<polyline points="209.1,412.6 220.1,412.6" fill="none" stroke="#4d4940" stroke-width="1.6" stroke-linejoin="miter" />
<polyline points="211.6,416.8 217.6,416.8" fill="none" stroke="#4d4940" stroke-width="1.6" stroke-linejoin="miter" />
<text transform="translate(207.3 426.6) scale(1.0 1)" font-size="7.08" font-weight="normal" fill="#33312b" stroke="#33312b" stroke-width="0.25" textLength="5.1" lengthAdjust="spacing">V</text>
<text x="212.4" y="431.7" font-size="9.07" font-weight="normal" fill="#33312b" stroke="#33312b" stroke-width="0.25" textLength="12.5" lengthAdjust="spacingAndGlyphs">DD</text>
<text transform="translate(213.8 307.0) scale(0.78 1)" font-size="11.11" font-weight="normal" fill="#33312b" stroke="#33312b" stroke-width="0.55" textLength="26.5" lengthAdjust="spacing">TIME</text>
<text transform="translate(215.8 317.3) scale(0.78 1)" font-size="10.14" font-weight="normal" fill="#33312b" stroke="#33312b" stroke-width="0.55" textLength="20.8" lengthAdjust="spacing">SET</text>
<path d="M181,332 Q181,328.3 184.5,328.3 L219,328.3 Q223,328.3 223,321.5 Q223,328.3 227,328.3 L262.5,328.3 Q266,328.3 266,332" fill="none" stroke="#4d4940" stroke-width="1.5" />
<text transform="translate(124.0 366.6) scale(0.78 1)" font-size="9.44" font-weight="normal" fill="#33312b" stroke="#33312b" stroke-width="0.55" textLength="52.3" lengthAdjust="spacing">H - HOLD</text>
<text transform="translate(124.0 378.8) scale(0.78 1)" font-size="9.44" font-weight="normal" fill="#33312b" stroke="#33312b" stroke-width="0.55" textLength="49.7" lengthAdjust="spacing">S = SLOW</text>
<text transform="translate(124.0 391.4) scale(0.78 1)" font-size="10.14" font-weight="normal" fill="#33312b" stroke="#33312b" stroke-width="0.55" textLength="48.2" lengthAdjust="spacing">F - FAST</text>
<polygon points="62.2,443.4 64.4,441.2 67.4,442.8 65.4,445.6" fill="#141310"/>
<polygon points="62.2,456.1 64.4,453.9 67.4,455.5 65.4,458.3" fill="#141310"/>
<polygon points="62.2,468.9 64.4,466.7 67.4,468.3 65.4,471.1" fill="#141310"/>
<text transform="translate(70.5 449.2) scale(0.78 1)" font-size="10.00" font-weight="normal" fill="#33312b" stroke="#33312b" stroke-width="0.55" textLength="173.5" lengthAdjust="spacing">LEAVE PIN 11 OPEN FOR 50 Hz.</text>
<text transform="translate(70.5 461.9) scale(0.78 1)" font-size="10.14" font-weight="normal" fill="#33312b" stroke="#33312b" stroke-width="0.55" textLength="231.8" lengthAdjust="spacing">LEAVE PIN 12 OPEN FOR 24 HR. DISPLAY.</text>
<text transform="translate(70.5 474.3) scale(0.78 1)" font-size="10.14" font-weight="normal" fill="#33312b" stroke="#33312b" stroke-width="0.55" textLength="196.0" lengthAdjust="spacing">GROUND PIN 1 TO BLANK DISPLAY</text>
<rect x="71.7" y="484.6" width="164.3" height="95" fill="none" stroke="#4d4940" stroke-width="1.6"/>
<text transform="translate(85.5 504.3) scale(0.78 1)" font-size="10.00" font-weight="normal" fill="#33312b" stroke="#33312b" stroke-width="0.25" textLength="19.2" lengthAdjust="spacing">H10</text>
<text transform="translate(104.0 504.3) scale(0.78 1)" font-size="10.00" font-weight="normal" fill="#33312b" stroke="#33312b" stroke-width="0.25" textLength="5.8" lengthAdjust="spacing">-</text>
<text transform="translate(112.0 504.3) scale(0.78 1)" font-size="10.00" font-weight="normal" fill="#33312b" stroke="#33312b" stroke-width="0.45" textLength="126.7" lengthAdjust="spacing">TENS OF HOURS DIGIT</text>
<text transform="translate(85.5 516.9) scale(0.78 1)" font-size="10.00" font-weight="normal" fill="#33312b" stroke="#33312b" stroke-width="0.25" textLength="11.5" lengthAdjust="spacing">H1</text>
<text transform="translate(104.0 516.9) scale(0.78 1)" font-size="10.00" font-weight="normal" fill="#33312b" stroke="#33312b" stroke-width="0.25" textLength="5.8" lengthAdjust="spacing">-</text>
<text transform="translate(112.0 516.9) scale(0.78 1)" font-size="10.00" font-weight="normal" fill="#33312b" stroke="#33312b" stroke-width="0.45" textLength="131.5" lengthAdjust="spacing">UNITS OF HOURS DIGIT</text>
<text transform="translate(85.5 529.2) scale(0.78 1)" font-size="10.00" font-weight="normal" fill="#33312b" stroke="#33312b" stroke-width="0.25" textLength="19.2" lengthAdjust="spacing">M10</text>
<text transform="translate(104.0 529.2) scale(0.78 1)" font-size="10.00" font-weight="normal" fill="#33312b" stroke="#33312b" stroke-width="0.25" textLength="5.8" lengthAdjust="spacing">-</text>
<text transform="translate(112.0 529.2) scale(0.78 1)" font-size="10.00" font-weight="normal" fill="#33312b" stroke="#33312b" stroke-width="0.45" textLength="137.9" lengthAdjust="spacing">TENS OF MINUTES DIGIT</text>
<text transform="translate(85.5 542.4) scale(0.78 1)" font-size="10.00" font-weight="normal" fill="#33312b" stroke="#33312b" stroke-width="0.25" textLength="11.5" lengthAdjust="spacing">M1</text>
<text transform="translate(104.0 542.4) scale(0.78 1)" font-size="10.00" font-weight="normal" fill="#33312b" stroke="#33312b" stroke-width="0.25" textLength="5.8" lengthAdjust="spacing">=</text>
<text transform="translate(112.0 542.4) scale(0.78 1)" font-size="10.00" font-weight="normal" fill="#33312b" stroke="#33312b" stroke-width="0.45" textLength="142.8" lengthAdjust="spacing">UNITS OF MINUTES DIGIT</text>
<text transform="translate(85.5 554.8) scale(0.78 1)" font-size="10.00" font-weight="normal" fill="#33312b" stroke="#33312b" stroke-width="0.25" textLength="19.2" lengthAdjust="spacing">S10</text>
<text transform="translate(104.0 554.8) scale(0.78 1)" font-size="10.00" font-weight="normal" fill="#33312b" stroke="#33312b" stroke-width="0.25" textLength="5.8" lengthAdjust="spacing">=</text>
<text transform="translate(112.0 554.8) scale(0.78 1)" font-size="10.00" font-weight="normal" fill="#33312b" stroke="#33312b" stroke-width="0.45" textLength="137.9" lengthAdjust="spacing">TENS OF SECONDS DIGIT</text>
<text transform="translate(85.5 567.4) scale(0.78 1)" font-size="10.00" font-weight="normal" fill="#33312b" stroke="#33312b" stroke-width="0.25" textLength="11.5" lengthAdjust="spacing">S1</text>
<text transform="translate(104.0 567.4) scale(0.78 1)" font-size="10.00" font-weight="normal" fill="#33312b" stroke="#33312b" stroke-width="0.25" textLength="5.8" lengthAdjust="spacing">-</text>
<text transform="translate(112.0 567.4) scale(0.78 1)" font-size="10.00" font-weight="normal" fill="#33312b" stroke="#33312b" stroke-width="0.45" textLength="142.8" lengthAdjust="spacing">UNITS OF SECONDS DIGIT</text>
<g font-family="Liberation Sans" font-weight="bold" font-size="11.9" fill="#1f1d19">
<text transform="translate(241.8 581.6) scale(1.09 1)" textLength="396.1" lengthAdjust="spacing">FIG. 1—THE BABYLON SPACE-AGE, a simple digital clock. Also</text>
<text transform="translate(241.8 596.4) scale(1.09 1)" textLength="396.1" lengthAdjust="spacing">shown are the display segment letters and the colon code for the</text>
<text transform="translate(241.8 611.2) scale(1.09 1)">seconds.</text>
</g>
<text transform="translate(574.0 13.6) scale(0.78 1)" font-size="9.44" font-weight="normal" fill="#33312b" stroke="#33312b" stroke-width="0.55" textLength="74.0" lengthAdjust="spacing">COLON CODE</text>
<polyline points="458.6,17.7 726.9,17.7 726.9,95.1 553.5,95.1 553.5,60.7 458.6,60.7 458.6,17.7" fill="none" stroke="#4d4940" stroke-width="1.7" stroke-linejoin="miter" />
<text transform="translate(468.3 35.1) scale(0.78 1)" font-size="10.97" font-weight="normal" fill="#33312b" stroke="#33312b" stroke-width="0.55" textLength="34.9" lengthAdjust="spacing">SEG. E</text>
<text transform="translate(468.3 52.1) scale(0.78 1)" font-size="10.97" font-weight="normal" fill="#33312b" stroke="#33312b" stroke-width="0.55" textLength="34.9" lengthAdjust="spacing">SEG. D</text>
<polyline points="500.7,31.0 567.0,31.0" fill="none" stroke="#4d4940" stroke-width="1.4" stroke-linejoin="miter" />
<polygon points="571,31 565,28.7 565,33.3" fill="#141310"/>
<polyline points="500.7,48.0 567.0,48.0" fill="none" stroke="#4d4940" stroke-width="1.4" stroke-linejoin="miter" />
<polygon points="571,48 565,45.7 565,50.3" fill="#141310"/>
<circle cx="575.2" cy="31.0" r="2.9" fill="#141310"/>
<circle cx="644.2" cy="31.0" r="2.9" fill="#141310"/>
<circle cx="679.3" cy="31.0" r="2.9" fill="#141310"/>
<circle cx="713.3" cy="31.0" r="2.9" fill="#141310"/>
<circle cx="575.2" cy="48.0" r="2.9" fill="#141310"/>
<circle cx="592.5" cy="48.0" r="2.9" fill="#141310"/>
<circle cx="627.2" cy="48.0" r="2.9" fill="#141310"/>
<circle cx="644.2" cy="48.0" r="2.9" fill="#141310"/>
<circle cx="679.3" cy="48.0" r="2.9" fill="#141310"/>
<circle cx="713.3" cy="48.0" r="2.9" fill="#141310"/>
<polyline points="563.0,61.5 563.0,79.0" fill="none" stroke="#4d4940" stroke-width="1.6" stroke-linejoin="miter" />
<polyline points="570.2,61.8 578.8,61.8" fill="none" stroke="#4d4940" stroke-width="1.6" stroke-linejoin="miter" stroke-linecap="square"/>
<polyline points="578.8,61.8 578.8,70.3" fill="none" stroke="#4d4940" stroke-width="1.6" stroke-linejoin="miter" stroke-linecap="square"/>
<polyline points="570.2,70.3 578.8,70.3" fill="none" stroke="#4d4940" stroke-width="1.6" stroke-linejoin="miter" stroke-linecap="square"/>
<polyline points="570.2,70.3 570.2,78.8" fill="none" stroke="#4d4940" stroke-width="1.6" stroke-linejoin="miter" stroke-linecap="square"/>
<polyline points="570.2,78.8 578.8,78.8" fill="none" stroke="#4d4940" stroke-width="1.6" stroke-linejoin="miter" stroke-linecap="square"/>
<polyline points="588.4,61.8 595.8,61.8" fill="none" stroke="#4d4940" stroke-width="1.6" stroke-linejoin="miter" stroke-linecap="square"/>
<polyline points="595.8,61.8 595.8,70.3" fill="none" stroke="#4d4940" stroke-width="1.6" stroke-linejoin="miter" stroke-linecap="square"/>
<polyline points="588.4,70.3 595.8,70.3" fill="none" stroke="#4d4940" stroke-width="1.6" stroke-linejoin="miter" stroke-linecap="square"/>
<polyline points="595.8,70.3 595.8,78.8" fill="none" stroke="#4d4940" stroke-width="1.6" stroke-linejoin="miter" stroke-linecap="square"/>
<polyline points="588.4,78.8 595.8,78.8" fill="none" stroke="#4d4940" stroke-width="1.6" stroke-linejoin="miter" stroke-linecap="square"/>
<polyline points="604.2,61.8 604.2,70.3" fill="none" stroke="#4d4940" stroke-width="1.6" stroke-linejoin="miter" stroke-linecap="square"/>
<polyline points="604.2,70.3 613.4,70.3" fill="none" stroke="#4d4940" stroke-width="1.6" stroke-linejoin="miter" stroke-linecap="square"/>
<polyline points="613.4,61.8 613.4,70.3" fill="none" stroke="#4d4940" stroke-width="1.6" stroke-linejoin="miter" stroke-linecap="square"/>
<polyline points="613.4,70.3 613.4,78.8" fill="none" stroke="#4d4940" stroke-width="1.6" stroke-linejoin="miter" stroke-linecap="square"/>
<polyline points="623.5,61.8 632.1,61.8" fill="none" stroke="#4d4940" stroke-width="1.6" stroke-linejoin="miter" stroke-linecap="square"/>
<polyline points="623.5,61.8 623.5,70.3" fill="none" stroke="#4d4940" stroke-width="1.6" stroke-linejoin="miter" stroke-linecap="square"/>
<polyline points="623.5,70.3 632.1,70.3" fill="none" stroke="#4d4940" stroke-width="1.6" stroke-linejoin="miter" stroke-linecap="square"/>
<polyline points="632.1,70.3 632.1,78.8" fill="none" stroke="#4d4940" stroke-width="1.6" stroke-linejoin="miter" stroke-linecap="square"/>
<polyline points="623.5,78.8 632.1,78.8" fill="none" stroke="#4d4940" stroke-width="1.6" stroke-linejoin="miter" stroke-linecap="square"/>
<polyline points="640.5,61.8 640.5,70.3" fill="none" stroke="#4d4940" stroke-width="1.6" stroke-linejoin="miter" stroke-linecap="square"/>
<polyline points="640.5,70.3 649.7,70.3" fill="none" stroke="#4d4940" stroke-width="1.6" stroke-linejoin="miter" stroke-linecap="square"/>
<polyline points="649.7,70.3 649.7,78.8" fill="none" stroke="#4d4940" stroke-width="1.6" stroke-linejoin="miter" stroke-linecap="square"/>
<polyline points="640.5,78.8 649.7,78.8" fill="none" stroke="#4d4940" stroke-width="1.6" stroke-linejoin="miter" stroke-linecap="square"/>
<polyline points="640.5,70.3 640.5,78.8" fill="none" stroke="#4d4940" stroke-width="1.6" stroke-linejoin="miter" stroke-linecap="square"/>
<polyline points="659.7,61.8 668.3,61.8" fill="none" stroke="#4d4940" stroke-width="1.6" stroke-linejoin="miter" stroke-linecap="square"/>
<polyline points="668.3,61.8 668.3,70.3" fill="none" stroke="#4d4940" stroke-width="1.6" stroke-linejoin="miter" stroke-linecap="square"/>
<polyline points="668.3,70.3 668.3,78.8" fill="none" stroke="#4d4940" stroke-width="1.6" stroke-linejoin="miter" stroke-linecap="square"/>
<polyline points="674.4,61.8 684.2,61.8" fill="none" stroke="#4d4940" stroke-width="1.6" stroke-linejoin="miter" stroke-linecap="square"/>
<polyline points="684.2,61.8 684.2,70.3" fill="none" stroke="#4d4940" stroke-width="1.6" stroke-linejoin="miter" stroke-linecap="square"/>
<polyline points="684.2,70.3 684.2,78.8" fill="none" stroke="#4d4940" stroke-width="1.6" stroke-linejoin="miter" stroke-linecap="square"/>
<polyline points="674.4,78.8 684.2,78.8" fill="none" stroke="#4d4940" stroke-width="1.6" stroke-linejoin="miter" stroke-linecap="square"/>
<polyline points="674.4,70.3 674.4,78.8" fill="none" stroke="#4d4940" stroke-width="1.6" stroke-linejoin="miter" stroke-linecap="square"/>
<polyline points="674.4,61.8 674.4,70.3" fill="none" stroke="#4d4940" stroke-width="1.6" stroke-linejoin="miter" stroke-linecap="square"/>
<polyline points="674.4,70.3 684.2,70.3" fill="none" stroke="#4d4940" stroke-width="1.6" stroke-linejoin="miter" stroke-linecap="square"/>
<polyline points="692.6,61.8 701.2,61.8" fill="none" stroke="#4d4940" stroke-width="1.6" stroke-linejoin="miter" stroke-linecap="square"/>
<polyline points="701.2,61.8 701.2,70.3" fill="none" stroke="#4d4940" stroke-width="1.6" stroke-linejoin="miter" stroke-linecap="square"/>
<polyline points="701.2,70.3 701.2,78.8" fill="none" stroke="#4d4940" stroke-width="1.6" stroke-linejoin="miter" stroke-linecap="square"/>
<polyline points="692.6,61.8 692.6,70.3" fill="none" stroke="#4d4940" stroke-width="1.6" stroke-linejoin="miter" stroke-linecap="square"/>
<polyline points="692.6,70.3 701.2,70.3" fill="none" stroke="#4d4940" stroke-width="1.6" stroke-linejoin="miter" stroke-linecap="square"/>
<polyline points="709.5,61.8 719.2,61.8" fill="none" stroke="#4d4940" stroke-width="1.6" stroke-linejoin="miter" stroke-linecap="square"/>
<polyline points="719.2,61.8 719.2,70.3" fill="none" stroke="#4d4940" stroke-width="1.6" stroke-linejoin="miter" stroke-linecap="square"/>
<polyline points="719.2,70.3 719.2,78.8" fill="none" stroke="#4d4940" stroke-width="1.6" stroke-linejoin="miter" stroke-linecap="square"/>
<polyline points="709.5,78.8 719.2,78.8" fill="none" stroke="#4d4940" stroke-width="1.6" stroke-linejoin="miter" stroke-linecap="square"/>
<polyline points="709.5,70.3 709.5,78.8" fill="none" stroke="#4d4940" stroke-width="1.6" stroke-linejoin="miter" stroke-linecap="square"/>
<polyline points="709.5,61.8 709.5,70.3" fill="none" stroke="#4d4940" stroke-width="1.6" stroke-linejoin="miter" stroke-linecap="square"/>
<rect x="743.8" y="17.9" width="94.6" height="86.2" fill="none" stroke="#4d4940" stroke-width="1.7"/>
<text transform="translate(763.0 29.0) scale(0.78 1)" font-size="10.69" font-weight="normal" fill="#33312b" stroke="#33312b" stroke-width="0.25" textLength="64.9" lengthAdjust="spacing">STANDARD</text>
<text transform="translate(745.2 40.0) scale(0.78 1)" font-size="11.11" font-weight="normal" fill="#33312b" stroke="#33312b" stroke-width="0.25" textLength="117.9" lengthAdjust="spacing">7-SEGMENT DISPLAY</text>
<text transform="translate(757.2 50.5) scale(0.78 1)" font-size="11.11" font-weight="normal" fill="#33312b" stroke="#33312b" stroke-width="0.25" textLength="85.8" lengthAdjust="spacing">DESIGNATIONS</text>
<polyline points="786.3,64.8 794.0,64.8" fill="none" stroke="#141310" stroke-width="2.9" stroke-linejoin="miter" stroke-linecap="round"/>
<polyline points="783.3,67.0 783.3,75.0" fill="none" stroke="#141310" stroke-width="2.9" stroke-linejoin="miter" stroke-linecap="round"/>
<polyline points="796.1,67.0 796.1,75.0" fill="none" stroke="#141310" stroke-width="2.9" stroke-linejoin="miter" stroke-linecap="round"/>
<polyline points="786.3,77.6 794.0,77.6" fill="none" stroke="#141310" stroke-width="2.9" stroke-linejoin="miter" stroke-linecap="round"/>
<polyline points="783.3,80.4 783.3,88.2" fill="none" stroke="#141310" stroke-width="2.9" stroke-linejoin="miter" stroke-linecap="round"/>
<polyline points="796.1,80.4 796.1,88.2" fill="none" stroke="#141310" stroke-width="2.9" stroke-linejoin="miter" stroke-linecap="round"/>
<polyline points="786.3,90.5 794.0,90.5" fill="none" stroke="#141310" stroke-width="2.9" stroke-linejoin="miter" stroke-linecap="round"/>
<text transform="translate(787.3 59.5) scale(1 1)" font-size="7.78" font-weight="normal" fill="#33312b" stroke="#33312b" stroke-width="0.25" textLength="5.2" lengthAdjust="spacing">A</text>
<text transform="translate(774.0 73.6) scale(1 1)" font-size="8.61" font-weight="normal" fill="#33312b" stroke="#33312b" stroke-width="0.25" textLength="4.2" lengthAdjust="spacing">F</text>
<text transform="translate(787.6 74.9) scale(1 1)" font-size="8.06" font-weight="normal" fill="#55524a" stroke="#55524a" stroke-width="0.25" textLength="4.8" lengthAdjust="spacing">G</text>
<text transform="translate(800.5 73.6) scale(1 1)" font-size="8.61" font-weight="normal" fill="#33312b" stroke="#33312b" stroke-width="0.25" textLength="4.6" lengthAdjust="spacing">B</text>
<text transform="translate(774.0 87.4) scale(1 1)" font-size="8.61" font-weight="normal" fill="#33312b" stroke="#33312b" stroke-width="0.25" textLength="4.2" lengthAdjust="spacing">E</text>
<text transform="translate(800.5 87.4) scale(1 1)" font-size="8.61" font-weight="normal" fill="#33312b" stroke="#33312b" stroke-width="0.25" textLength="4.6" lengthAdjust="spacing">C</text>
<text transform="translate(787.6 100.5) scale(1 1)" font-size="7.50" font-weight="normal" fill="#33312b" stroke="#33312b" stroke-width="0.25" textLength="4.8" lengthAdjust="spacing">D</text>
<text transform="translate(662.4 495.8) scale(0.78 1)" font-size="10.14" font-weight="normal" fill="#33312b" stroke="#33312b" stroke-width="0.55" textLength="97.9" lengthAdjust="spacing">FND - 70 DIGITS</text>
<text transform="translate(647.2 507.2) scale(0.78 1)" font-size="9.86" font-weight="normal" fill="#33312b" stroke="#33312b" stroke-width="0.55" textLength="117.4" lengthAdjust="spacing">(COMMON CATHODE)</text>
<text transform="translate(762.0 506.8) scale(0.78 1)" font-size="9.58" font-weight="normal" fill="#33312b" stroke="#33312b" stroke-width="0.55" textLength="21.3" lengthAdjust="spacing">TOP</text>
<rect x="744.2" y="510.1" width="52.3" height="86.7" fill="none" stroke="#4d4940" stroke-width="1.8"/>
<circle cx="744.2" cy="519.0" r="2.9" fill="#141310"/>
<circle cx="796.5" cy="519.0" r="2.9" fill="#141310"/>
<text transform="translate(683.0 522.5) scale(0.78 1)" font-size="9.72" font-weight="normal" fill="#33312b" stroke="#33312b" stroke-width="0.5" textLength="69.2" lengthAdjust="spacing">CATHODE - 1</text>
<text transform="translate(802.3 522.5) scale(0.78 1)" font-size="9.72" font-weight="normal" fill="#33312b" stroke="#33312b" stroke-width="0.5" textLength="56.3" lengthAdjust="spacing">10–SEG. A</text>
<circle cx="744.2" cy="535.9" r="2.9" fill="#141310"/>
<circle cx="796.5" cy="535.9" r="2.9" fill="#141310"/>
<text transform="translate(697.0 539.4) scale(0.78 1)" font-size="9.72" font-weight="normal" fill="#33312b" stroke="#33312b" stroke-width="0.5" textLength="51.3" lengthAdjust="spacing">SEG. F–2</text>
<text transform="translate(806.7 539.4) scale(0.78 1)" font-size="9.72" font-weight="normal" fill="#33312b" stroke="#33312b" stroke-width="0.5" textLength="49.1" lengthAdjust="spacing">9–SEG. B</text>
<circle cx="744.2" cy="553.2" r="2.9" fill="#141310"/>
<circle cx="796.5" cy="553.2" r="2.9" fill="#141310"/>
<text transform="translate(697.0 556.7) scale(0.78 1)" font-size="9.72" font-weight="normal" fill="#33312b" stroke="#33312b" stroke-width="0.5" textLength="51.3" lengthAdjust="spacing">SEG. G-3</text>
<text transform="translate(806.7 556.7) scale(0.78 1)" font-size="9.72" font-weight="normal" fill="#33312b" stroke="#33312b" stroke-width="0.5" textLength="49.1" lengthAdjust="spacing">8–SEG. C</text>
<circle cx="744.2" cy="570.6" r="2.9" fill="#141310"/>
<circle cx="796.5" cy="570.6" r="2.9" fill="#141310"/>
<text transform="translate(698.3 574.1) scale(0.78 1)" font-size="9.72" font-weight="normal" fill="#33312b" stroke="#33312b" stroke-width="0.5" textLength="47.4" lengthAdjust="spacing">SEG.E–4</text>
<text transform="translate(806.7 574.1) scale(0.78 1)" font-size="9.72" font-weight="normal" fill="#33312b" stroke="#33312b" stroke-width="0.5" textLength="65.4" lengthAdjust="spacing">7–DECIMAL</text>
<circle cx="744.2" cy="588.4" r="2.9" fill="#141310"/>
<circle cx="796.5" cy="588.4" r="2.9" fill="#141310"/>
<text transform="translate(698.3 591.9) scale(0.78 1)" font-size="9.72" font-weight="normal" fill="#33312b" stroke="#33312b" stroke-width="0.5" textLength="49.6" lengthAdjust="spacing">SEG.D–5</text>
<text transform="translate(806.7 591.9) scale(0.78 1)" font-size="9.72" font-weight="normal" fill="#33312b" stroke="#33312b" stroke-width="0.5" textLength="68.7" lengthAdjust="spacing">6–CATHODE</text>
<text transform="translate(761.0 548.9) scale(0.78 1)" font-size="11.39" font-weight="normal" fill="#33312b" stroke="#33312b" stroke-width="0.25" textLength="25.6" lengthAdjust="spacing">FND</text>
<text transform="translate(765.9 564.2) scale(0.78 1)" font-size="11.67" font-weight="normal" fill="#33312b" stroke="#33312b" stroke-width="0.25" textLength="12.9" lengthAdjust="spacing">70</text>
<text transform="translate(742.1 609.0) scale(0.78 1)" font-size="8.61" font-weight="normal" fill="#33312b" stroke="#33312b" stroke-width="0.55" textLength="71.4" lengthAdjust="spacing">FRONT VIEW</text>
</svg>
</body></html>
